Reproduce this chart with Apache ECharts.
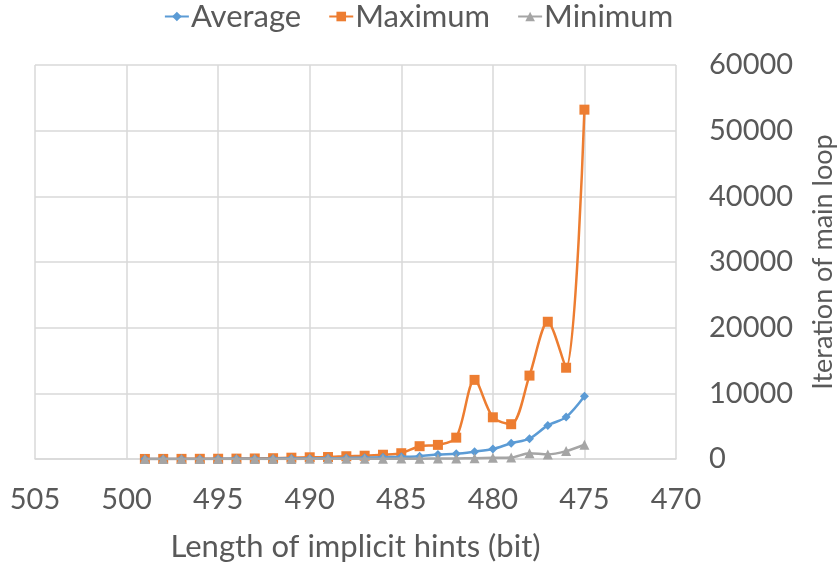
<!DOCTYPE html>
<html>
<head>
<meta charset="utf-8">
<script src="https://cdn.jsdelivr.net/npm/echarts@6/dist/echarts.min.js"></script>
<style>
html,body{margin:0;padding:0;background:#fff;}
#c{width:837px;height:569px;}
</style>
</head>
<body>
<div id="c"></div>
<script>
const hintLengths = [499,498,497,496,495,494,493,492,491,490,489,488,487,486,485,484,483,482,481,480,479,478,477,476,475];
const averageVals = [5,8,10,15,20,25,35,50,70,90,110,150,200,260,330,430,680,790,1120,1520,2400,3100,5120,6380,9550];
const maximumVals = [10,15,20,30,40,60,80,120,200,260,300,420,500,650,880,1950,2150,3250,12050,6350,5300,12700,20900,13900,53200];
const minimumVals = [1,1,2,3,4,5,8,10,15,20,25,30,40,50,60,40,70,90,130,180,220,880,700,1200,2170];
const xTicks = {min:470, max:505, interval:5};
const yTicks = {min:0, max:60000, interval:10000};

const FONT = 'Lato, "Open Sans", sans-serif';
const TXT = '#595959';
const pair = (xs, ys) => xs.map((x,i)=>[x, ys[i]]);

const chart = echarts.init(document.getElementById('c'));
chart.setOption({
  animation:false,
  textStyle:{fontFamily:FONT},
  legend:{
    top:-4, left:'center', itemGap:27, itemWidth:24, itemHeight:12,
    textStyle:{fontSize:31, color:TXT, fontFamily:FONT, padding:[0,0,0,-3]},
    data:['Average','Maximum','Minimum']
  },
  grid:{left:35, right:161, top:65, bottom:110, containLabel:false, outerBoundsMode:'none'},
  xAxis:{
    type:'value', inverse:true, min:xTicks.min, max:xTicks.max, interval:xTicks.interval,
    name:'Length of implicit hints (bit)', nameLocation:'middle', nameGap:72,
    nameTextStyle:{fontSize:31, color:TXT, fontFamily:FONT},
    axisLine:{show:true, lineStyle:{color:'#d9d9d9', width:1.5}},
    axisTick:{show:false},
    axisLabel:{fontSize:29, color:TXT, margin:26, fontFamily:FONT},
    splitLine:{show:true, lineStyle:{color:'#d9d9d9', width:1.5}}
  },
  yAxis:{
    type:'value', position:'right', min:yTicks.min, max:yTicks.max, interval:yTicks.interval,
    name:'Iteration of main loop', nameLocation:'middle', nameGap:134,
    nameTextStyle:{fontSize:27, color:TXT, fontFamily:FONT},
    axisLine:{show:false},
    axisTick:{show:false},
    axisLabel:{fontSize:29, color:TXT, margin:33, fontFamily:FONT, formatter:v=>String(v)},
    splitLine:{show:true, lineStyle:{color:'#d9d9d9', width:1.5}}
  },
  series:[
    {name:'Average', type:'line', smooth:0.3, data:pair(hintLengths, averageVals),
     color:'#5B9BD5', symbol:'diamond', symbolSize:9,
     lineStyle:{width:2.5}, itemStyle:{color:'#5B9BD5'}, z:3},
    {name:'Maximum', type:'line', smooth:0.3, data:pair(hintLengths, maximumVals),
     color:'#ED7D31', symbol:'rect', symbolSize:10,
     lineStyle:{width:2.5}, itemStyle:{color:'#ED7D31'}, z:2},
    {name:'Minimum', type:'line', smooth:0.3, data:pair(hintLengths, minimumVals),
     color:'#A5A5A5', symbol:'triangle', symbolSize:10,
     lineStyle:{width:2.5}, itemStyle:{color:'#A5A5A5'}, z:4}
  ]
});
</script>
</body>
</html>
